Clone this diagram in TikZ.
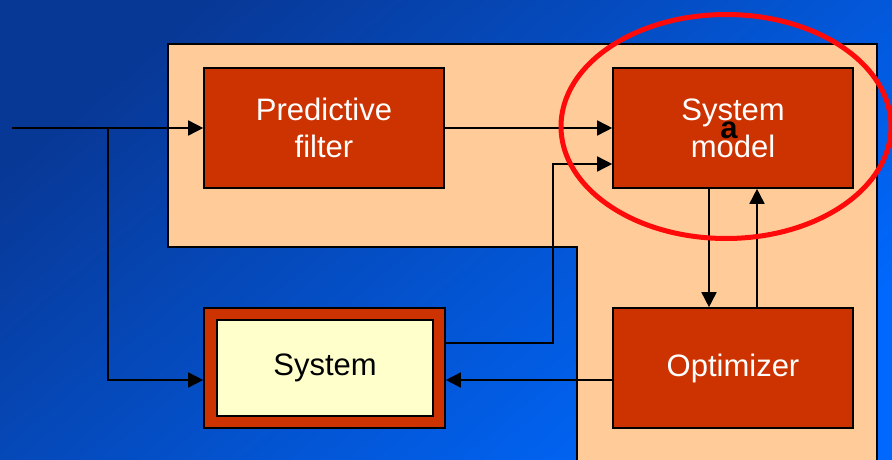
\documentclass[tikz,border=0pt]{standalone}
\usepackage{fontspec}
\setmainfont{Liberation Sans}
\usetikzlibrary{arrows.meta,calc}
\definecolor{bgA}{RGB}{8,56,150}
\definecolor{bgB}{RGB}{0,104,252}
\definecolor{peach}{RGB}{255,204,153}
\definecolor{brick}{RGB}{204,51,0}
\definecolor{cream}{RGB}{255,255,204}
\definecolor{ring}{RGB}{255,10,10}
\begin{document}
\begin{tikzpicture}[x=1pt,y=-1pt,
  redbox/.style={draw=black,line width=1.6pt,fill=brick,minimum width=240pt,minimum height=120pt,inner sep=0pt,align=center,text=white,font=\fontsize{31}{37}\selectfont},
  innerbox/.style={draw=black,line width=1.6pt,fill=cream,minimum width=216pt,minimum height=96pt,inner sep=0pt,text=black,font=\fontsize{31}{37}\selectfont},
  arr/.style={draw=black,line width=1.6pt,-{Triangle[length=15pt,width=15pt]}},
  wire/.style={draw=black,line width=1.6pt}]
\useasboundingbox (0,0) rectangle (892,460);
\shade[top color=bgA,bottom color=bgB,shading angle=40] (-1,-1) rectangle (893,461);
% peach panel
\draw[line width=1.6pt,fill=peach] (168,44) -- (877,44) -- (877,470) -- (577,470) -- (577,247) -- (168,247) -- cycle;
% boxes
\node[redbox] (pf) at (324,128) {Predictive\\filter};
\node[redbox] (sm) at (733,128) {System\\model};
\node[redbox] (opt) at (733,368) {Optimizer};
\node[draw=black,line width=1.6pt,fill=brick,minimum width=241pt,minimum height=120pt,inner sep=0pt] (sys) at (324.5,368) {};
\node[innerbox] (sysin) at (325,368) {System};
% connectors
\coordinate (in) at (12,128);
\coordinate (br) at (108,128);
\draw[arr] (in) -- (pf.west);
\draw[arr] (br) |- ([yshift=-12pt]sys.west);
\draw[arr] (pf.east) -- (sm.west);
\draw[arr] ([yshift=25pt]sys.east) -- ++(107,0) |- ([yshift=-36pt]sm.west);
\draw[arr] ([xshift=-24pt]sm.south) -- ([xshift=-24pt]opt.north);
\draw[arr] ([xshift=24pt]opt.north) -- ([xshift=24pt]sm.south);
\draw[arr] ([yshift=-12pt]opt.west) -- ([yshift=-12pt]sys.east);
% highlight
\draw[ring,line width=5pt] (726,126.5) ellipse [x radius=165pt,y radius=112pt];
\node[font=\fontsize{31}{37}\selectfont\bfseries,text=black,inner sep=0pt] (lbl) at (729,130) {a};
\end{tikzpicture}
\end{document}
